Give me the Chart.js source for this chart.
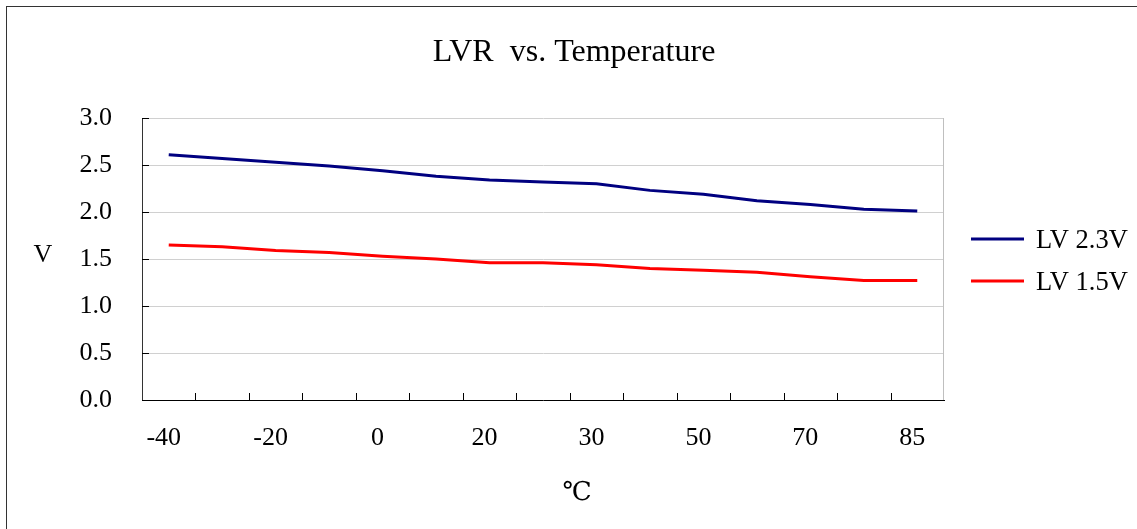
<!DOCTYPE html>
<html>
<head>
<meta charset="utf-8">
<title>LVR vs. Temperature</title>
<script src="https://cdn.jsdelivr.net/npm/chart.js@4.4.1/dist/chart.umd.min.js"></script>
<style>
  html, body { margin: 0; padding: 0; background: #fff; }
  #wrap { position: relative; width: 1137px; height: 529px; }
</style>
</head>
<body>
<div id="wrap"><canvas id="lvrChart"></canvas></div>
<script>
// temperature steps (deg C) along the x axis
const temps = ['-40', '-30', '-20', '-10', '0', '10', '20', '25', '30', '40', '50', '60', '70', '80', '85'];
// LVR readings in volts
const lv23 = [2.61, 2.57, 2.53, 2.49, 2.44, 2.38, 2.34, 2.32, 2.30, 2.23, 2.19, 2.12, 2.08, 2.03, 2.01];
const lv15 = [1.65, 1.63, 1.59, 1.57, 1.53, 1.50, 1.46, 1.46, 1.44, 1.40, 1.38, 1.36, 1.31, 1.27, 1.27];
const seriesNames = ['LV 2.3V', 'LV 1.5V'];
const yTicks = [0, 0.5, 1.0, 1.5, 2.0, 2.5, 3.0];

const serif = '"Liberation Serif", "Times New Roman", serif';
Chart.defaults.font.family = serif;
Chart.defaults.color = '#000';

// title, axis names, legend and inner tick marks, drawn Excel-style
const decorations = {
  id: 'decorations',
  afterDraw(chart) {
    const ctx = chart.ctx;
    const area = chart.chartArea;
    const xs = chart.scales.x;
    const ys = chart.scales.y;
    ctx.save();

    // outer frame
    ctx.strokeStyle = '#333';
    ctx.lineWidth = 1;
    ctx.strokeRect(6.5, 6.5, 1300, 700);

    // right edge of plot area
    ctx.strokeStyle = '#bfbfbf';
    ctx.beginPath();
    ctx.moveTo(area.right - 0.5, area.top);
    ctx.lineTo(area.right - 0.5, area.bottom);
    ctx.stroke();

    // inward tick marks
    ctx.strokeStyle = '#000';
    ctx.beginPath();
    for (let i = 1; i < temps.length; i++) {
      const x = Math.round(xs.getPixelForValue(i - 0.5)) + 0.5;
      ctx.moveTo(x, area.bottom);
      ctx.lineTo(x, area.bottom - 7);
    }
    yTicks.forEach(v => {
      const y = Math.round(ys.getPixelForValue(v)) + 0.5;
      ctx.moveTo(area.left, y);
      ctx.lineTo(area.left + 7, y);
    });
    ctx.stroke();

    ctx.fillStyle = '#000';
    ctx.textBaseline = 'alphabetic';
    ctx.textAlign = 'center';
    ctx.font = '32px ' + serif;
    ctx.fillText('LVR  vs. Temperature', 574, 61);

    ctx.font = '26px ' + serif;
    ctx.fillText('V', 43, 262);
    ctx.font = '26px "DejaVu Serif", ' + serif;
    ctx.fillText('℃', 577, 500);

    // legend
    ctx.font = '26.5px ' + serif;
    ctx.textAlign = 'left';
    chart.data.datasets.forEach((ds, i) => {
      const y = 239 + i * 42;
      ctx.strokeStyle = ds.borderColor;
      ctx.lineWidth = 3;
      ctx.beginPath();
      ctx.moveTo(971, y);
      ctx.lineTo(1024, y);
      ctx.stroke();
      ctx.fillText(ds.label, 1036, y + 9);
    });
    ctx.restore();
  }
};

new Chart(document.getElementById('lvrChart'), {
  type: 'line',
  data: {
    labels: temps,
    datasets: [{
      label: seriesNames[0],
      data: lv23,
      borderColor: '#000080',
      borderWidth: 3,
      pointRadius: 0,
      tension: 0
    }, {
      label: seriesNames[1],
      data: lv15,
      borderColor: '#ff0000',
      borderWidth: 3,
      pointRadius: 0,
      tension: 0
    }]
  },
  options: {
    responsive: true,
    maintainAspectRatio: false,
    animation: false,
    layout: { padding: { left: 0, top: 118, right: 193, bottom: 0 } },
    plugins: {
      legend: { display: false },
      title: { display: false },
      tooltip: { enabled: false }
    },
    scales: {
      x: {
        type: 'category',
        offset: true,
        grid: { display: false },
        border: { display: true, color: '#000', width: 1 },
        ticks: {
          autoSkip: false,
          maxRotation: 0,
          padding: 15,
          labelOffset: -5,
          font: { size: 26 },
          callback: (v, i) => (i % 2 === 0 ? temps[i] : '')
        },
        afterFit: s => { s.height = 129; }
      },
      y: {
        min: 0,
        max: 3,
        grid: { color: '#d0d0d0', lineWidth: 1, drawTicks: false },
        border: { display: true, color: '#333', width: 1 },
        ticks: {
          stepSize: 0.5,
          padding: 30,
          font: { size: 26 },
          callback: v => Number(v).toFixed(1)
        },
        afterFit: s => { s.width = 142; }
      }
    }
  },
  plugins: [decorations]
});
</script>
</body>
</html>
